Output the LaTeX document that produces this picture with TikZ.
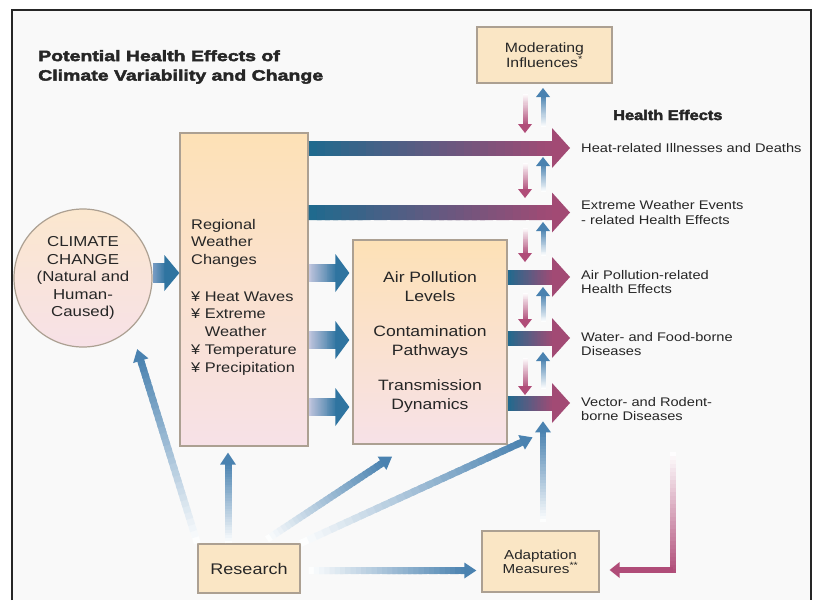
\documentclass[tikz,border=0pt]{standalone}
\usepackage{fontspec}
\setmainfont[FakeStretch=1.17]{Liberation Sans}
\newfontfamily\titlefont[FakeStretch=1.3,FakeBold=3]{Liberation Sans Bold}
\newfontfamily\headfont[FakeStretch=1.17,FakeBold=3]{Liberation Sans Bold}
\usepackage{tikz}
\usetikzlibrary{calc}

\definecolor{darkteal}{HTML}{1F6A8E}
\definecolor{mauve}{HTML}{A24A74}
\definecolor{rose}{HTML}{B04C78}
\definecolor{steel}{HTML}{4A82B0}
\definecolor{deepblue}{HTML}{2F74A0}
\definecolor{lilac}{HTML}{C6C8E0}
\definecolor{haze}{HTML}{7E9FC6}
\definecolor{peach}{HTML}{FDE1B6}
\definecolor{circtop}{HTML}{FBE7CE}
\definecolor{blush}{HTML}{F7E1E7}
\definecolor{sand}{HTML}{FAE6C5}
\definecolor{rim}{HTML}{ACA092}
\definecolor{ink}{HTML}{262626}
\definecolor{paper}{HTML}{F9F9F9}

% shaft going from colour #4 to colour #5
\newcommand\fadeline[5]{%
  \coordinate (fl-s) at #1;
  \coordinate (fl-e) at #2;
  \foreach \k in {1,...,30}{%
    \pgfmathtruncatemacro\mix{100*(\k-0.5)/30}
    \pgfmathsetmacro\upto{min(\k+0.6,30)/30}
    \draw[line width=#3, #5!\mix!#4] ($(fl-s)!{(\k-1)/30}!(fl-e)$) -- ($(fl-s)!\upto!(fl-e)$);
  }}
% from, to, shaft, head length, head half width, start colour, tip colour
\newcommand\fadearrow[7]{%
  \coordinate (fa-s) at #1;
  \coordinate (fa-e) at #2;
  \coordinate (fa-b) at ($(fa-e)!#4!(fa-s)$);
  \fadeline{(fa-s)}{($(fa-e)!{#4-1.5pt}!(fa-s)$)}{#3}{#6}{#7}
  \fill[#7] (fa-e) -- ($(fa-b)!#5!90:(fa-e)$) -- ($(fa-b)!#5!-90:(fa-e)$) -- cycle;
}

\begin{document}
\begin{tikzpicture}[x=1pt, y=-1pt,
  panel/.style={draw=rim, line width=1.3pt, top color=peach, bottom color=blush, inner sep=0pt, text=ink},
  tag/.style={draw=rim, line width=1.3pt, fill=sand, inner sep=0pt, align=center, text=ink},
  effect/.style={anchor=west, inner sep=0pt, align=left, text=ink, font={\fontsize{12.5}{14.5}\selectfont}}]

\fill[white] (0,0) rectangle (813,600);
\useasboundingbox (0,0) rectangle (813,600);
\fill[paper] (12,10) rectangle (811,600);
\draw[ink, line width=1.2pt] (12,600) -- (12,10) -- (811,10) -- (811,600);

\node[anchor=west, inner sep=0pt, align=left, text=ink, font={\titlefont\fontsize{15}{19.5}\selectfont}] (title) at (38,67)
  {Potential Health Effects of\\Climate Variability and Change};

\node[tag, minimum width=135pt, minimum height=56pt, font={\fontsize{13.5}{14.5}\selectfont}] (mod) at (544.5,55)
  {Moderating\\Influences\textsuperscript{*}};
\node[anchor=west, inner sep=0pt, text=ink, font={\headfont\fontsize{14}{16}\selectfont}] (heffects) at (613,115) {Health Effects};

\node[circle, draw=rim, line width=1.2pt, top color=circtop, bottom color=blush, minimum size=138pt, inner sep=0pt,
  align=center, text=ink, font={\fontsize{14.4}{17.5}\selectfont}] (cc) at (83,278)
  {CLIMATE\\CHANGE\\(Natural and\\Human-\\Caused)};

\node[panel, minimum width=128pt, minimum height=313pt, align=left, font={\fontsize{14}{17.7}\selectfont}] (reg) at (244,289.5)
  {\rule{0pt}{25pt}Regional\\Weather\\Changes\\[19pt]¥ Heat Waves\\¥ Extreme\\\phantom{¥ }Weather\\¥ Temperature\\¥ Precipitation};

\node[panel, minimum width=154pt, minimum height=204pt, align=center, font={\fontsize{15}{19}\selectfont}] (mid) at (430,342)
  {Air Pollution\\Levels\\[16pt]Contamination\\Pathways\\[16pt]Transmission\\Dynamics};

\node[effect] (heat) at (581,148) {Heat-related Illnesses and Deaths};
\node[effect] (extreme) at (581,212.5) {Extreme Weather Events\\- related Health Effects};
\node[effect] (air) at (581,282) {Air Pollution-related\\Health Effects};
\node[effect] (water) at (581,344) {Water- and Food-borne\\Diseases};
\node[effect] (vector) at (581,409) {Vector- and Rodent-\\borne Diseases};

\node[tag, minimum width=102pt, minimum height=49pt, font={\fontsize{15.4}{17}\selectfont}] (res) at (249,568.5) {Research};
\node[tag, minimum width=117pt, minimum height=61pt, font={\fontsize{13}{14}\selectfont}] (adapt) at (540.5,561.5)
  {Adaptation\\Measures\textsuperscript{**}};

% climate to regional weather
\fadearrow{($(cc.east)+(0,-5)$)}{($(reg.west |- cc.east)+(0,-5)$)}{20pt}{15pt}{18pt}{haze}{deepblue}
% regional weather to the middle box
\foreach \dy in {-69,-2,65}{
  \fadearrow{($(reg.east |- mid.west)+(0,\dy)$)}{($(mid.west)+(-3,\dy)$)}{18pt}{14pt}{19pt}{lilac}{deepblue}
}
% into the health effects
\fadearrow{(reg.east |- heat.west)}{($(heat.west)+(-11,0)$)}{15pt}{18pt}{20pt}{darkteal}{mauve}
\fadearrow{(reg.east |- extreme.west)}{($(extreme.west)+(-11,0)$)}{15pt}{18pt}{20pt}{darkteal}{mauve}
\fadearrow{($(mid.east |- air.west)+(0,-5)$)}{($(air.west)+(-11,-5)$)}{15pt}{18pt}{20pt}{darkteal}{mauve}
\fadearrow{($(mid.east |- water.west)+(0,-6)$)}{($(water.west)+(-11,-6)$)}{15pt}{18pt}{20pt}{darkteal}{mauve}
\fadearrow{($(mid.east |- vector.west)+(0,-6)$)}{($(vector.west)+(-11,-6)$)}{15pt}{18pt}{20pt}{darkteal}{mauve}

% moderating influences, up and down
\foreach \a/\b in {88/133,157/198,222/262,287/328,352/395}{
  \fadearrow{(525,\a+6)}{(525,\b)}{5pt}{9pt}{7pt}{white}{rose}
  \fadearrow{(543,\b-6)}{(543,\a)}{5pt}{9pt}{7pt}{white}{steel}
}

% research
\fadearrow{(res.north west)}{($(cc.south east)+(5,22)$)}{7pt}{12pt}{8pt}{white}{steel}
\fadearrow{($(res.north)+(-21,0)$)}{($(reg.south)+(-16,6)$)}{7pt}{12pt}{8pt}{white}{steel}
\fadearrow{($(res.north)+(18,-4)$)}{($(mid.south)+(-38,12)$)}{7pt}{12pt}{8pt}{white}{steel}
\fadearrow{(res.north east)}{($(adapt.north)+(-8,-93)$)}{7pt}{12pt}{8pt}{white}{steel}
\fadearrow{($(res.east)+(8,2)$)}{($(adapt.west |- res.east)+(-5,2)$)}{7pt}{12pt}{8pt}{white}{steel}

% adaptation
\fadearrow{($(adapt.north)+(2.5,-8)$)}{($(adapt.north)+(2.5,-109)$)}{6pt}{11pt}{8pt}{white}{steel}
\coordinate (fb) at (673,452);
\coordinate (fc) at (673,570);
\fadeline{(fb)}{($(fc)+(0,3)$)}{6pt}{white}{rose}
\fadearrow{(fc)}{($(adapt.east |- fc)+(10,0)$)}{6pt}{10pt}{8pt}{rose}{rose}
\end{tikzpicture}
\end{document}
